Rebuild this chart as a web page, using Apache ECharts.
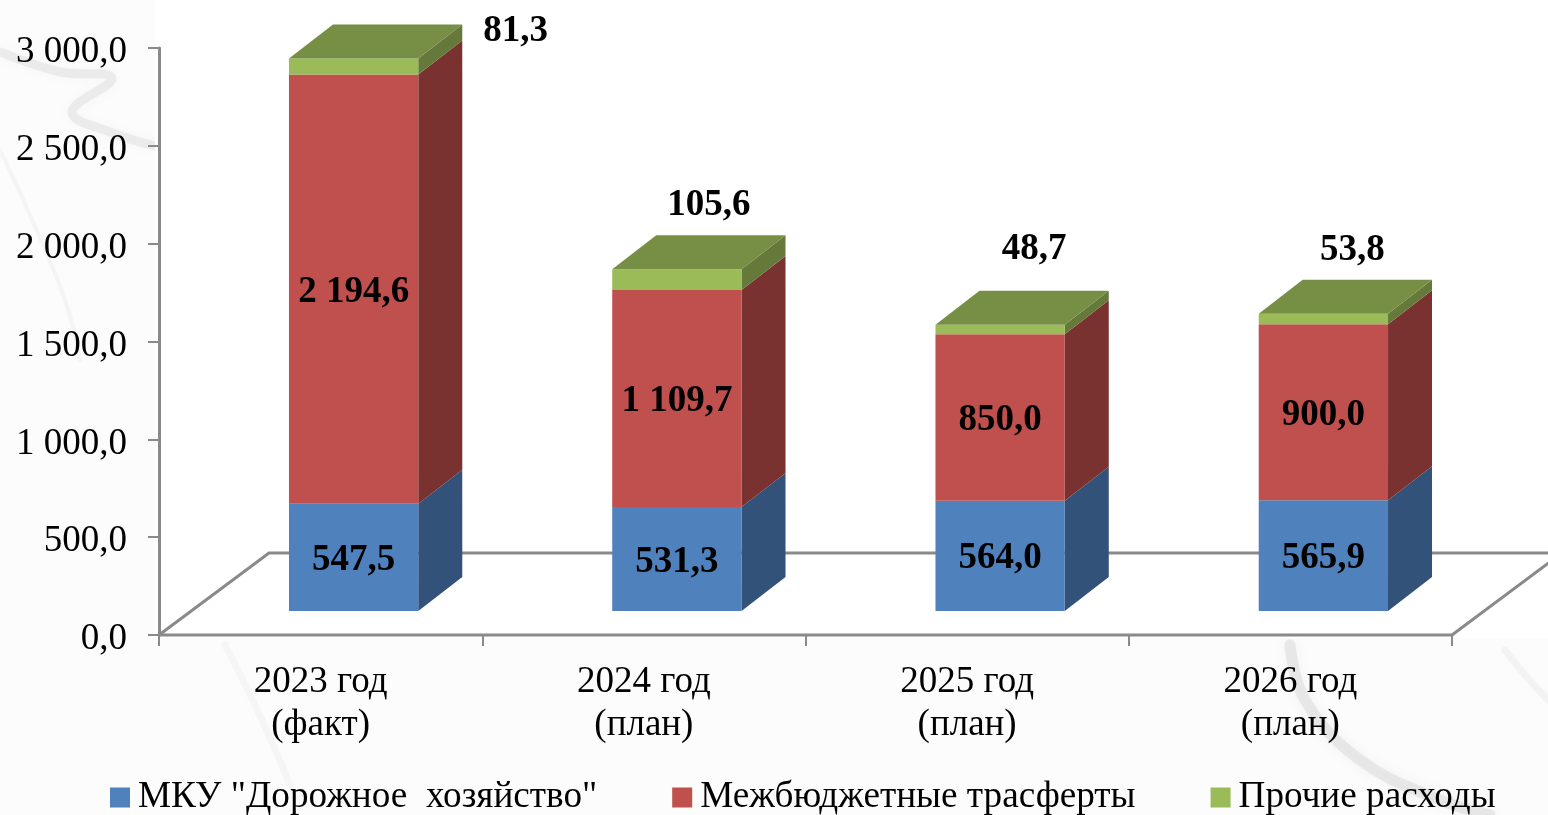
<!DOCTYPE html>
<html>
<head>
<meta charset="utf-8">
<style>html,body{margin:0;padding:0;background:#fcfcfc}#c{width:1548px;height:815px}</style>
<script src="https://cdn.jsdelivr.net/npm/echarts@6/dist/echarts.min.js"></script>
</head>
<body>
<div id="c"></div>
<script>
const categories = ['2023 год\n(факт)', '2024 год\n(план)', '2025 год\n(план)', '2026 год\n(план)'];
const roadValues = [547.5, 531.3, 564.0, 565.9];
const transferValues = [2194.6, 1109.7, 850.0, 900.0];
const otherValues = [81.3, 105.6, 48.7, 53.8];
const seriesNames = ['МКУ "Дорожное  хозяйство"', 'Межбюджетные трасферты', 'Прочие расходы'];
const yTicks = [0, 500, 1000, 1500, 2000, 2500, 3000];

const FONT = '"Liberation Serif","Times New Roman",serif';
const fmt = v => {
  const [a, b] = v.toFixed(1).split('.');
  return a.replace(/\B(?=(\d{3})+$)/g, ' ') + ',' + b;
};
// 3D projection of the chart box
const depthX = 44, depthY = 34;
const floorX = 110, floorY = 82;
const liftX = 33, liftY = 24;
const axisColor = '#8a8a8a';
// moved data labels of the top segment, relative to the front-top centre of the bar
const topLabelShift = [[162, -27], [32, -64], [34, -75], [29, -63]];

const palette = [
  {front: '#4F81BD', side: '#32527A'},
  {front: '#C0504D', side: '#7A3230'},
  {front: '#9BBB59', side: '#657A3A', top: '#778E45'}
];

const stacks = [roadValues, transferValues, otherValues];
function segmentData(k) {
  return categories.map((c, i) => {
    let base = 0;
    for (let j = 0; j < k; j++) base += stacks[j][i];
    return [i, base, base + stacks[k][i], stacks[k][i]];
  });
}

function barRenderer(k) {
  return function (params, api) {
    const i = api.value(0);
    const band = api.size([1, 0])[0];
    const w = band * 0.4;
    const cx = api.coord([i, 0])[0] + liftX;
    const x0 = cx - w / 2, x1 = cx + w / 2;
    const yb = api.coord([i, api.value(1)])[1] - liftY;
    const yt = api.coord([i, api.value(2)])[1] - liftY;
    const p = palette[k];
    const children = [
      {type: 'polygon', shape: {points: [[x1, yb], [x1 + depthX, yb - depthY], [x1 + depthX, yt - depthY], [x1, yt]]},
        style: {fill: p.side}},
      {type: 'rect', shape: {x: x0, y: yt, width: w, height: yb - yt}, style: {fill: p.front}}
    ];
    if (p.top) {
      children.push({type: 'polygon', shape: {points: [[x0, yt], [x1, yt], [x1 + depthX, yt - depthY], [x0 + depthX, yt - depthY]]},
        style: {fill: p.top}});
    }
    const s = k === 2 ? topLabelShift[i] : null;
    children.push({
      type: 'text', z2: 10,
      style: {
        text: fmt(api.value(3)),
        x: s ? cx + s[0] : cx,
        y: s ? yt + s[1] : (yt + yb) / 2 + 3,
        align: 'center', verticalAlign: 'middle',
        font: 'bold 37px ' + FONT, fill: '#000'
      }
    });
    return {type: 'group', children};
  };
}

function floorRenderer(params, api) {
  const g = params.coordSys;
  const l = g.x, r = g.x + g.width, b = g.y + g.height;
  const line = {stroke: axisColor, lineWidth: 3, fill: null};
  return {type: 'group', children: [
    {type: 'polyline', shape: {points: [[l, b], [l + floorX, b - floorY], [r + floorX, b - floorY]]}, style: line},
    {type: 'polyline', shape: {points: [[l, b], [r, b], [r + floorX, b - floorY]]}, style: line}
  ]};
}

const smear = (points, w, a) => ({
  type: 'polyline', silent: true, z: -10, shape: {points, smooth: 0.4},
  style: {stroke: 'rgba(215,215,215,' + a + ')', lineWidth: w, fill: null, lineCap: 'round',
    shadowBlur: 12, shadowColor: 'rgba(215,215,215,' + a + ')'}
});

const chart = echarts.init(document.getElementById('c'), null, {renderer: 'canvas'});
chart.setOption({
  animation: false,
  backgroundColor: '#fcfcfc',
  textStyle: {fontFamily: FONT},
  graphic: {elements: [
    smear([[0, 52], [60, 72], [112, 78], [72, 112], [110, 132], [155, 146]], 9, 0.4),
    smear([[0, 150], [30, 215], [65, 300], [80, 360]], 4, 0.18),
    smear([[225, 645], [262, 720], [290, 785]], 7, 0.14),
    smear([[1290, 645], [1305, 700], [1360, 760], [1440, 800], [1490, 815]], 11, 0.5),
    smear([[1505, 650], [1525, 675], [1548, 700]], 7, 0.22),
    {type: 'rect', silent: true, z: -9, shape: {x: 155, y: 0, width: 1393, height: 638}, style: {fill: '#fff'}}
  ]},
  grid: {left: 159, right: 96, top: 48, bottom: 180, containLabel: false},
  legend: {
    left: 105, top: 774, itemWidth: 20, itemHeight: 20, itemGap: 75, icon: 'rect',
    selectedMode: false,
    data: seriesNames,
    textStyle: {fontFamily: FONT, fontSize: 37.2, color: '#000', padding: [-6, 0, 0, 3]}
  },
  xAxis: {
    type: 'category', data: categories,
    axisLine: {show: false},
    axisTick: {show: true, length: 11, alignWithLabel: false, lineStyle: {color: axisColor, width: 2}},
    axisLabel: {color: '#000', fontFamily: FONT, fontSize: 37, lineHeight: 43, margin: 26, interval: 0},
    splitLine: {show: false}
  },
  yAxis: {
    type: 'value', min: yTicks[0], max: yTicks[yTicks.length - 1], interval: yTicks[1],
    axisLine: {show: true, lineStyle: {color: axisColor, width: 3}},
    axisTick: {show: true, length: 11, lineStyle: {color: axisColor, width: 2}},
    axisLabel: {color: '#000', fontFamily: FONT, fontSize: 37, margin: 32, verticalAlign: 'top', padding: [-14, 0, 0, 0], formatter: v => fmt(v)},
    splitLine: {show: false}
  },
  series: [
    {type: 'custom', silent: true, z: 1, renderItem: floorRenderer, data: [[0, 0]], encode: {x: 0, y: 1}},
    ...seriesNames.map((name, k) => ({
      type: 'custom', name, z: 2 + k, silent: true,
      renderItem: barRenderer(k),
      itemStyle: {color: palette[k].front},
      encode: {x: 0, y: [1, 2]},
      data: segmentData(k)
    }))
  ]
});
</script>
</body>
</html>
